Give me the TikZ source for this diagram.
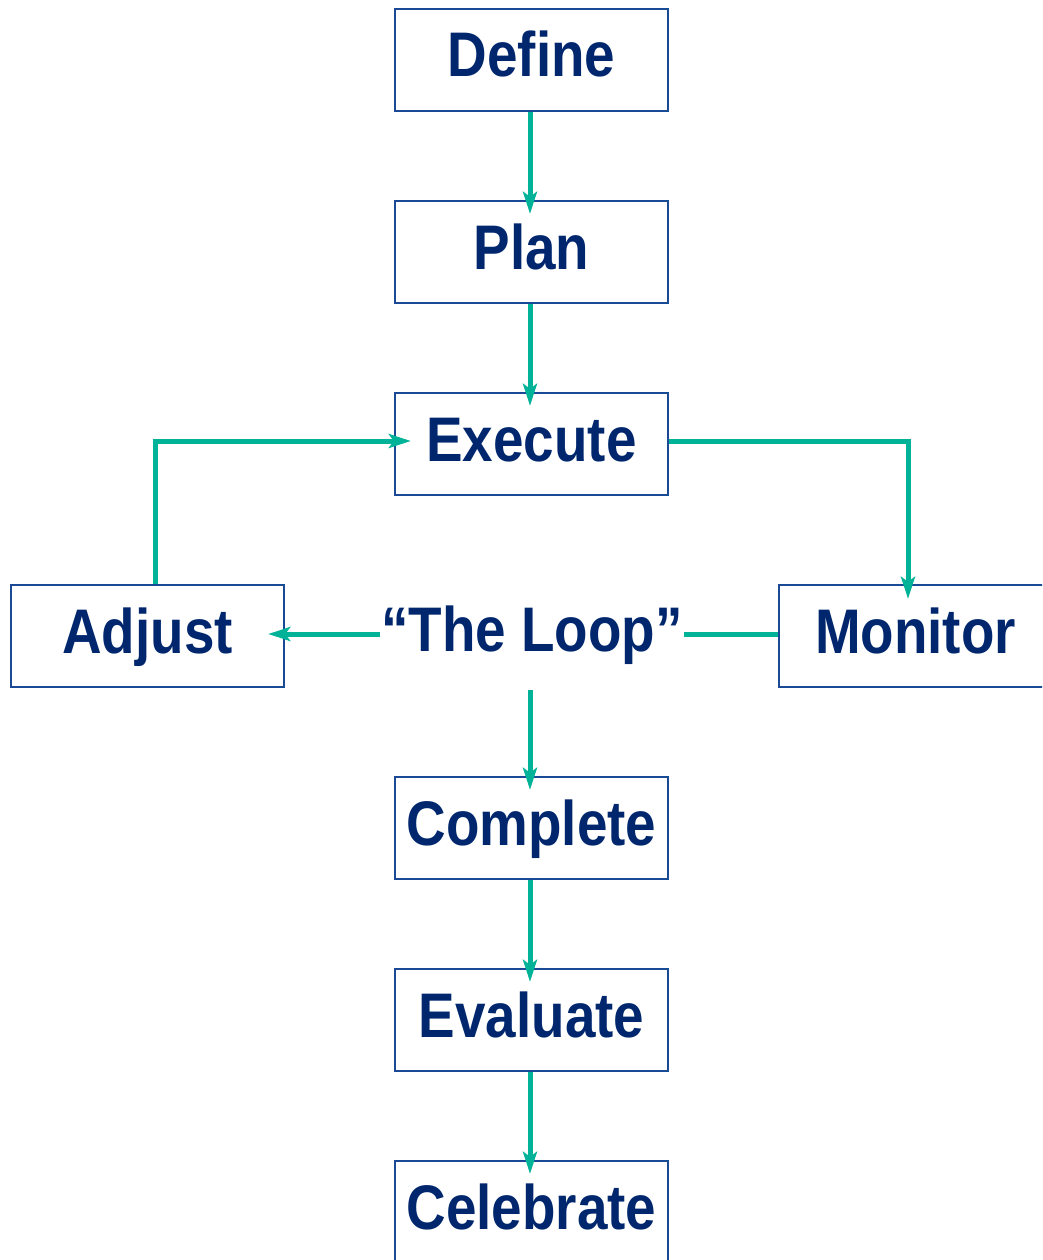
\documentclass[tikz,border=0pt]{standalone}
\usepackage{fontspec}
\setmainfont{Liberation Sans}[FakeStretch=0.87]
\usetikzlibrary{arrows.meta}
\definecolor{navy}{HTML}{00276E}
\definecolor{boxline}{HTML}{1A4A96}
\definecolor{teal}{HTML}{00B398}
\tikzset{
  stepbox/.style={draw=boxline, line width=2.4pt, fill=white, inner sep=0pt,
    minimum width=273pt, minimum height=102pt, text height=45pt, text depth=11pt,
    font=\fontsize{63}{70}\selectfont\bfseries, text=navy},
  looptext/.style={inner sep=0pt, minimum width=303pt, minimum height=112pt,
    text height=45pt, text depth=11pt,
    font=\fontsize{63}{70}\selectfont\bfseries, text=navy},
  flow/.style={draw=teal, line width=5pt},
  tip/.style={-{Stealth[length=22pt,width=14pt,inset=5pt]}},
  arr/.style={flow, tip, shorten >=-14pt},
  harr/.style={flow, tip, shorten >=-17pt}
}
\begin{document}
\begin{tikzpicture}[x=1pt,y=-1pt]
\useasboundingbox (0,0) rectangle (1042,1260);
\clip (0,0) rectangle (1042,1260);
\node[stepbox] (define) at (531.5,60) {Define};
\node[stepbox] (plan) at (531.5,252) {Plan};
\node[stepbox] (execute) at (531.5,444) {Execute};
\node[stepbox] (adjust) at (147.5,636) {Adjust};
\node[stepbox] (monitor) at (915.5,636) {Monitor};
\node[looptext] (loop) at (532,634) {“The Loop”};
\node[stepbox] (complete) at (531.5,828) {Complete};
\node[stepbox] (evaluate) at (531.5,1020) {Evaluate};
\node[stepbox] (celebrate) at (531.5,1212) {Celebrate};
\coordinate (a1) at (155,441);
\coordinate (m1) at (908,441);
\coordinate (lc) at (530,634);
\draw[arr] (define.south -| lc) -- (plan.north -| lc);
\draw[arr] (plan.south -| lc) -- (execute.north -| lc);
\draw[harr] (adjust.north -| a1) -- (a1) -- (execute.west |- a1);
\draw[flow, tip, shorten >=-15pt] (execute.east |- m1) -- (m1) -- (monitor.north -| m1);
\draw[flow] (monitor.west |- lc) -- (loop.east |- lc);
\draw[harr] (loop.west |- lc) -- (adjust.east |- lc);
\draw[arr] (loop.south -| lc) -- (complete.north -| lc);
\draw[arr] (complete.south -| lc) -- (evaluate.north -| lc);
\draw[arr] (evaluate.south -| lc) -- (celebrate.north -| lc);
\end{tikzpicture}
\end{document}
